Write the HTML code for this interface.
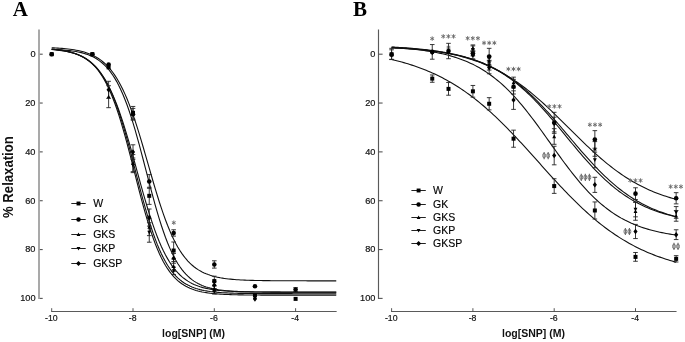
<!DOCTYPE html>
<html><head><meta charset="utf-8"><title>Figure</title>
<style>
html,body{margin:0;padding:0;background:#fff;}
body{width:685px;height:342px;overflow:hidden;font-family:"Liberation Sans",sans-serif;}
svg{display:block;}
.tk{font-family:"Liberation Sans",sans-serif;font-size:9.5px;fill:#111;stroke:#111;stroke-width:0.2px;}
.lg{font-family:"Liberation Sans",sans-serif;font-size:10.5px;fill:#000;stroke:#000;stroke-width:0.15px;}
.xl{font-family:"Liberation Sans",sans-serif;font-size:10.5px;font-weight:bold;fill:#111;}
.yl{font-family:"Liberation Sans",sans-serif;font-size:13.15px;font-weight:bold;fill:#111;}
.pl{font-family:"Liberation Serif",serif;font-size:21px;font-weight:bold;fill:#000;}
.st{font-family:"Liberation Sans",sans-serif;font-size:12.5px;fill:#777;}
</style></head><body>
<svg width="685" height="342" viewBox="0 0 685 342">
<rect width="685" height="342" fill="#fff"/>
<g opacity="0.999">
<text x="12.8" y="16" class="pl">A</text>
<text x="353" y="16" class="pl">B</text>
<text transform="translate(12.9 177.1) rotate(-90) scale(1 1.12)" text-anchor="middle" class="yl">% Relaxation</text>
<path d="M39.00 29.6V298.90" stroke="#9a9a9a" stroke-width="1.7" fill="none"/>
<path d="M39.80 54.20H42.70" stroke="#555" stroke-width="1.1" fill="none"/>
<text transform="translate(35.50 57.10) scale(0.97 1)" text-anchor="end" class="tk">0</text>
<path d="M39.80 103.04H42.70" stroke="#555" stroke-width="1.1" fill="none"/>
<text transform="translate(35.50 105.94) scale(0.97 1)" text-anchor="end" class="tk">20</text>
<path d="M39.80 151.88H42.70" stroke="#555" stroke-width="1.1" fill="none"/>
<text transform="translate(35.50 154.78) scale(0.97 1)" text-anchor="end" class="tk">40</text>
<path d="M39.80 200.72H42.70" stroke="#555" stroke-width="1.1" fill="none"/>
<text transform="translate(35.50 203.62) scale(0.97 1)" text-anchor="end" class="tk">60</text>
<path d="M39.80 249.56H42.70" stroke="#555" stroke-width="1.1" fill="none"/>
<text transform="translate(35.50 252.46) scale(0.97 1)" text-anchor="end" class="tk">80</text>
<path d="M39.80 298.40H42.70" stroke="#555" stroke-width="1.1" fill="none"/>
<text transform="translate(35.50 301.30) scale(0.97 1)" text-anchor="end" class="tk">100</text>
<path d="M51.20 311.5H336.65" stroke="#5a5a5a" stroke-width="1.05" fill="none"/>
<path d="M51.70 311.4V308.20" stroke="#444" stroke-width="0.9" fill="none"/>
<text transform="translate(51.30 321.20) scale(0.92 1)" text-anchor="middle" class="tk" style="font-size:9.5px">-10</text>
<path d="M133.00 311.4V308.20" stroke="#444" stroke-width="0.9" fill="none"/>
<text transform="translate(132.60 321.20) scale(0.92 1)" text-anchor="middle" class="tk" style="font-size:9.5px">-8</text>
<path d="M214.30 311.4V308.20" stroke="#444" stroke-width="0.9" fill="none"/>
<text transform="translate(213.90 321.20) scale(0.92 1)" text-anchor="middle" class="tk" style="font-size:9.5px">-6</text>
<path d="M295.60 311.4V308.20" stroke="#444" stroke-width="0.9" fill="none"/>
<text transform="translate(295.20 321.20) scale(0.92 1)" text-anchor="middle" class="tk" style="font-size:9.5px">-4</text>
<text x="193.60" y="337" text-anchor="middle" class="xl">log[SNP] (M)</text>
<path d="M378.50 29.6V298.90" stroke="#5a5a5a" stroke-width="1.15" fill="none"/>
<path d="M378.50 54.20H382.60" stroke="#555" stroke-width="1.1" fill="none"/>
<text transform="translate(375.40 57.10) scale(0.97 1)" text-anchor="end" class="tk">0</text>
<path d="M378.50 103.04H382.60" stroke="#555" stroke-width="1.1" fill="none"/>
<text transform="translate(375.40 105.94) scale(0.97 1)" text-anchor="end" class="tk">20</text>
<path d="M378.50 151.88H382.60" stroke="#555" stroke-width="1.1" fill="none"/>
<text transform="translate(375.40 154.78) scale(0.97 1)" text-anchor="end" class="tk">40</text>
<path d="M378.50 200.72H382.60" stroke="#555" stroke-width="1.1" fill="none"/>
<text transform="translate(375.40 203.62) scale(0.97 1)" text-anchor="end" class="tk">60</text>
<path d="M378.50 249.56H382.60" stroke="#555" stroke-width="1.1" fill="none"/>
<text transform="translate(375.40 252.46) scale(0.97 1)" text-anchor="end" class="tk">80</text>
<path d="M378.50 298.40H382.60" stroke="#555" stroke-width="1.1" fill="none"/>
<text transform="translate(375.40 301.30) scale(0.97 1)" text-anchor="end" class="tk">100</text>
<path d="M391.10 311.5H676.55" stroke="#5a5a5a" stroke-width="1.05" fill="none"/>
<path d="M391.60 311.4V308.20" stroke="#444" stroke-width="0.9" fill="none"/>
<text transform="translate(391.20 321.20) scale(0.92 1)" text-anchor="middle" class="tk" style="font-size:9.5px">-10</text>
<path d="M472.90 311.4V308.20" stroke="#444" stroke-width="0.9" fill="none"/>
<text transform="translate(472.50 321.20) scale(0.92 1)" text-anchor="middle" class="tk" style="font-size:9.5px">-8</text>
<path d="M554.20 311.4V308.20" stroke="#444" stroke-width="0.9" fill="none"/>
<text transform="translate(553.80 321.20) scale(0.92 1)" text-anchor="middle" class="tk" style="font-size:9.5px">-6</text>
<path d="M635.50 311.4V308.20" stroke="#444" stroke-width="0.9" fill="none"/>
<text transform="translate(635.10 321.20) scale(0.92 1)" text-anchor="middle" class="tk" style="font-size:9.5px">-4</text>
<text x="533.50" y="337" text-anchor="middle" class="xl">log[SNP] (M)</text>
<path d="M51.70 47.78 L53.73 47.88 L55.76 47.98 L57.80 48.10 L59.83 48.24 L61.86 48.39 L63.90 48.57 L65.93 48.76 L67.96 48.98 L69.99 49.23 L72.03 49.51 L74.06 49.82 L76.09 50.18 L78.12 50.57 L80.15 51.02 L82.19 51.53 L84.22 52.09 L86.25 52.73 L88.29 53.44 L90.32 54.24 L92.35 55.14 L94.38 56.14 L96.41 57.27 L98.45 58.52 L100.48 59.92 L102.51 61.48 L104.55 63.22 L106.58 65.15 L108.61 67.28 L110.64 69.64 L112.67 72.25 L114.71 75.11 L116.74 78.25 L118.77 81.69 L120.80 85.43 L122.84 89.48 L124.87 93.87 L126.90 98.58 L128.94 103.62 L130.97 109.00 L133.00 114.68 L135.03 120.67 L137.06 126.92 L139.10 133.43 L141.13 140.14 L143.16 147.02 L145.20 154.03 L147.23 161.10 L149.26 168.20 L151.29 175.27 L153.32 182.25 L155.36 189.10 L157.39 195.78 L159.42 202.23 L161.46 208.44 L163.49 214.37 L165.52 219.99 L167.55 225.30 L169.59 230.28 L171.62 234.92 L173.65 239.24 L175.68 243.23 L177.71 246.91 L179.75 250.29 L181.78 253.37 L183.81 256.18 L185.85 258.73 L187.88 261.05 L189.91 263.14 L191.94 265.03 L193.98 266.73 L196.01 268.26 L198.04 269.63 L200.07 270.85 L202.11 271.95 L204.14 272.94 L206.17 273.81 L208.20 274.59 L210.24 275.29 L212.27 275.91 L214.30 276.47 L216.33 276.96 L218.37 277.40 L220.40 277.79 L222.43 278.13 L224.46 278.44 L226.50 278.71 L228.53 278.95 L230.56 279.17 L232.59 279.36 L234.62 279.53 L236.66 279.68 L238.69 279.81 L240.72 279.93 L242.75 280.03 L244.79 280.12 L246.82 280.21 L248.85 280.28 L250.88 280.34 L252.92 280.40 L254.95 280.45 L256.98 280.49 L259.02 280.53 L261.05 280.57 L263.08 280.60 L265.11 280.63 L267.15 280.65 L269.18 280.67 L271.21 280.69 L273.24 280.71 L275.27 280.73 L277.31 280.74 L279.34 280.75 L281.37 280.76 L283.41 280.77 L285.44 280.78 L287.47 280.79 L289.50 280.79 L291.54 280.80 L293.57 280.80 L295.60 280.81 L297.63 280.81 L299.67 280.81 L301.70 280.82 L303.73 280.82 L305.76 280.82 L307.80 280.83 L309.83 280.83 L311.86 280.83 L313.89 280.83 L315.92 280.83 L317.96 280.83 L319.99 280.83 L322.02 280.83 L324.06 280.84 L326.09 280.84 L328.12 280.84 L330.15 280.84 L332.19 280.84 L334.22 280.84 L336.25 280.84" fill="none" stroke="#101010" stroke-width="1.1"/>
<path d="M51.70 49.34 L53.73 49.43 L55.76 49.52 L57.80 49.63 L59.83 49.75 L61.86 49.89 L63.90 50.05 L65.93 50.23 L67.96 50.44 L69.99 50.67 L72.03 50.94 L74.06 51.24 L76.09 51.58 L78.12 51.97 L80.15 52.41 L82.19 52.90 L84.22 53.47 L86.25 54.10 L88.29 54.83 L90.32 55.64 L92.35 56.56 L94.38 57.60 L96.41 58.77 L98.45 60.09 L100.48 61.57 L102.51 63.23 L104.55 65.09 L106.58 67.17 L108.61 69.49 L110.64 72.08 L112.67 74.94 L114.71 78.12 L116.74 81.61 L118.77 85.46 L120.80 89.66 L122.84 94.24 L124.87 99.21 L126.90 104.56 L128.94 110.30 L130.97 116.42 L133.00 122.90 L135.03 129.71 L137.06 136.82 L139.10 144.19 L141.13 151.77 L143.16 159.49 L145.20 167.31 L147.23 175.16 L149.26 182.96 L151.29 190.67 L153.32 198.21 L155.36 205.53 L157.39 212.58 L159.42 219.33 L161.46 225.74 L163.49 231.78 L165.52 237.45 L167.55 242.72 L169.59 247.61 L171.62 252.11 L173.65 256.24 L175.68 260.02 L177.71 263.45 L179.75 266.56 L181.78 269.37 L183.81 271.89 L185.85 274.17 L187.88 276.20 L189.91 278.02 L191.94 279.65 L193.98 281.09 L196.01 282.38 L198.04 283.52 L200.07 284.54 L202.11 285.43 L204.14 286.23 L206.17 286.93 L208.20 287.55 L210.24 288.10 L212.27 288.59 L214.30 289.02 L216.33 289.39 L218.37 289.73 L220.40 290.02 L222.43 290.28 L224.46 290.51 L226.50 290.71 L228.53 290.88 L230.56 291.04 L232.59 291.18 L234.62 291.30 L236.66 291.40 L238.69 291.49 L240.72 291.58 L242.75 291.65 L244.79 291.71 L246.82 291.77 L248.85 291.82 L250.88 291.86 L252.92 291.90 L254.95 291.93 L256.98 291.96 L259.02 291.99 L261.05 292.01 L263.08 292.03 L265.11 292.05 L267.15 292.06 L269.18 292.07 L271.21 292.09 L273.24 292.10 L275.27 292.11 L277.31 292.11 L279.34 292.12 L281.37 292.13 L283.41 292.13 L285.44 292.14 L287.47 292.14 L289.50 292.15 L291.54 292.15 L293.57 292.15 L295.60 292.15 L297.63 292.16 L299.67 292.16 L301.70 292.16 L303.73 292.16 L305.76 292.16 L307.80 292.16 L309.83 292.17 L311.86 292.17 L313.89 292.17 L315.92 292.17 L317.96 292.17 L319.99 292.17 L322.02 292.17 L324.06 292.17 L326.09 292.17 L328.12 292.17 L330.15 292.17 L332.19 292.17 L334.22 292.17 L336.25 292.17" fill="none" stroke="#101010" stroke-width="1.1"/>
<path d="M51.70 49.24 L53.73 49.41 L55.76 49.61 L57.80 49.84 L59.83 50.09 L61.86 50.38 L63.90 50.71 L65.93 51.09 L67.96 51.51 L69.99 52.00 L72.03 52.54 L74.06 53.16 L76.09 53.86 L78.12 54.66 L80.15 55.55 L82.19 56.57 L84.22 57.71 L86.25 59.00 L88.29 60.44 L90.32 62.07 L92.35 63.90 L94.38 65.94 L96.41 68.22 L98.45 70.77 L100.48 73.60 L102.51 76.73 L104.55 80.19 L106.58 84.00 L108.61 88.18 L110.64 92.74 L112.67 97.69 L114.71 103.03 L116.74 108.78 L118.77 114.92 L120.80 121.43 L122.84 128.29 L124.87 135.47 L126.90 142.93 L128.94 150.62 L130.97 158.47 L133.00 166.44 L135.03 174.45 L137.06 182.43 L139.10 190.32 L141.13 198.06 L143.16 205.59 L145.20 212.85 L147.23 219.81 L149.26 226.42 L151.29 232.67 L153.32 238.52 L155.36 243.98 L157.39 249.04 L159.42 253.71 L161.46 257.99 L163.49 261.90 L165.52 265.46 L167.55 268.68 L169.59 271.59 L171.62 274.22 L173.65 276.57 L175.68 278.68 L177.71 280.56 L179.75 282.24 L181.78 283.74 L183.81 285.07 L185.85 286.25 L187.88 287.30 L189.91 288.23 L191.94 289.05 L193.98 289.78 L196.01 290.42 L198.04 290.98 L200.07 291.48 L202.11 291.92 L204.14 292.31 L206.17 292.65 L208.20 292.95 L210.24 293.22 L212.27 293.45 L214.30 293.66 L216.33 293.84 L218.37 294.00 L220.40 294.14 L222.43 294.26 L224.46 294.37 L226.50 294.46 L228.53 294.55 L230.56 294.62 L232.59 294.68 L234.62 294.74 L236.66 294.79 L238.69 294.84 L240.72 294.87 L242.75 294.91 L244.79 294.94 L246.82 294.96 L248.85 294.99 L250.88 295.01 L252.92 295.02 L254.95 295.04 L256.98 295.05 L259.02 295.07 L261.05 295.08 L263.08 295.09 L265.11 295.09 L267.15 295.10 L269.18 295.11 L271.21 295.11 L273.24 295.12 L275.27 295.12 L277.31 295.13 L279.34 295.13 L281.37 295.13 L283.41 295.13 L285.44 295.14 L287.47 295.14 L289.50 295.14 L291.54 295.14 L293.57 295.14 L295.60 295.14 L297.63 295.14 L299.67 295.15 L301.70 295.15 L303.73 295.15 L305.76 295.15 L307.80 295.15 L309.83 295.15 L311.86 295.15 L313.89 295.15 L315.92 295.15 L317.96 295.15 L319.99 295.15 L322.02 295.15 L324.06 295.15 L326.09 295.15 L328.12 295.15 L330.15 295.15 L332.19 295.15 L334.22 295.15 L336.25 295.15" fill="none" stroke="#101010" stroke-width="1.1"/>
<path d="M51.70 49.52 L53.73 49.68 L55.76 49.87 L57.80 50.09 L59.83 50.33 L61.86 50.61 L63.90 50.93 L65.93 51.28 L67.96 51.69 L69.99 52.15 L72.03 52.67 L74.06 53.25 L76.09 53.92 L78.12 54.67 L80.15 55.52 L82.19 56.48 L84.22 57.56 L86.25 58.77 L88.29 60.14 L90.32 61.68 L92.35 63.40 L94.38 65.33 L96.41 67.48 L98.45 69.88 L100.48 72.55 L102.51 75.51 L104.55 78.78 L106.58 82.38 L108.61 86.32 L110.64 90.64 L112.67 95.33 L114.71 100.41 L116.74 105.88 L118.77 111.74 L120.80 117.96 L122.84 124.55 L124.87 131.46 L126.90 138.66 L128.94 146.11 L130.97 153.76 L133.00 161.55 L135.03 169.41 L137.06 177.29 L139.10 185.11 L141.13 192.82 L143.16 200.36 L145.20 207.67 L147.23 214.70 L149.26 221.42 L151.29 227.79 L153.32 233.80 L155.36 239.42 L157.39 244.66 L159.42 249.51 L161.46 253.97 L163.49 258.07 L165.52 261.80 L167.55 265.20 L169.59 268.28 L171.62 271.06 L173.65 273.56 L175.68 275.81 L177.71 277.83 L179.75 279.63 L181.78 281.24 L183.81 282.67 L185.85 283.95 L187.88 285.08 L189.91 286.09 L191.94 286.98 L193.98 287.77 L196.01 288.47 L198.04 289.08 L200.07 289.63 L202.11 290.11 L204.14 290.54 L206.17 290.91 L208.20 291.24 L210.24 291.54 L212.27 291.79 L214.30 292.02 L216.33 292.22 L218.37 292.40 L220.40 292.55 L222.43 292.69 L224.46 292.81 L226.50 292.91 L228.53 293.01 L230.56 293.09 L232.59 293.16 L234.62 293.22 L236.66 293.28 L238.69 293.33 L240.72 293.37 L242.75 293.41 L244.79 293.44 L246.82 293.47 L248.85 293.50 L250.88 293.52 L252.92 293.54 L254.95 293.56 L256.98 293.57 L259.02 293.59 L261.05 293.60 L263.08 293.61 L265.11 293.62 L267.15 293.63 L269.18 293.63 L271.21 293.64 L273.24 293.65 L275.27 293.65 L277.31 293.66 L279.34 293.66 L281.37 293.66 L283.41 293.67 L285.44 293.67 L287.47 293.67 L289.50 293.67 L291.54 293.67 L293.57 293.68 L295.60 293.68 L297.63 293.68 L299.67 293.68 L301.70 293.68 L303.73 293.68 L305.76 293.68 L307.80 293.68 L309.83 293.68 L311.86 293.68 L313.89 293.68 L315.92 293.68 L317.96 293.68 L319.99 293.68 L322.02 293.69 L324.06 293.69 L326.09 293.69 L328.12 293.69 L330.15 293.69 L332.19 293.69 L334.22 293.69 L336.25 293.69" fill="none" stroke="#101010" stroke-width="1.1"/>
<path d="M51.70 49.15 L53.73 49.35 L55.76 49.57 L57.80 49.82 L59.83 50.10 L61.86 50.41 L63.90 50.76 L65.93 51.16 L67.96 51.61 L69.99 52.11 L72.03 52.68 L74.06 53.31 L76.09 54.03 L78.12 54.83 L80.15 55.72 L82.19 56.73 L84.22 57.85 L86.25 59.11 L88.29 60.51 L90.32 62.07 L92.35 63.81 L94.38 65.74 L96.41 67.88 L98.45 70.25 L100.48 72.86 L102.51 75.74 L104.55 78.90 L106.58 82.35 L108.61 86.13 L110.64 90.22 L112.67 94.66 L114.71 99.43 L116.74 104.56 L118.77 110.02 L120.80 115.82 L122.84 121.94 L124.87 128.36 L126.90 135.04 L128.94 141.96 L130.97 149.08 L133.00 156.34 L135.03 163.70 L137.06 171.11 L139.10 178.51 L141.13 185.85 L143.16 193.07 L145.20 200.13 L147.23 206.98 L149.26 213.58 L151.29 219.90 L153.32 225.92 L155.36 231.62 L157.39 236.97 L159.42 241.99 L161.46 246.65 L163.49 250.98 L165.52 254.97 L167.55 258.64 L169.59 262.00 L171.62 265.07 L173.65 267.86 L175.68 270.39 L177.71 272.68 L179.75 274.76 L181.78 276.62 L183.81 278.30 L185.85 279.81 L187.88 281.16 L189.91 282.38 L191.94 283.46 L193.98 284.43 L196.01 285.29 L198.04 286.06 L200.07 286.75 L202.11 287.36 L204.14 287.91 L206.17 288.39 L208.20 288.82 L210.24 289.21 L212.27 289.55 L214.30 289.85 L216.33 290.12 L218.37 290.36 L220.40 290.57 L222.43 290.76 L224.46 290.92 L226.50 291.07 L228.53 291.20 L230.56 291.32 L232.59 291.42 L234.62 291.51 L236.66 291.59 L238.69 291.66 L240.72 291.73 L242.75 291.78 L244.79 291.83 L246.82 291.88 L248.85 291.92 L250.88 291.95 L252.92 291.98 L254.95 292.01 L256.98 292.03 L259.02 292.06 L261.05 292.07 L263.08 292.09 L265.11 292.11 L267.15 292.12 L269.18 292.13 L271.21 292.14 L273.24 292.15 L275.27 292.16 L277.31 292.17 L279.34 292.17 L281.37 292.18 L283.41 292.18 L285.44 292.19 L287.47 292.19 L289.50 292.19 L291.54 292.20 L293.57 292.20 L295.60 292.20 L297.63 292.21 L299.67 292.21 L301.70 292.21 L303.73 292.21 L305.76 292.21 L307.80 292.21 L309.83 292.21 L311.86 292.21 L313.89 292.22 L315.92 292.22 L317.96 292.22 L319.99 292.22 L322.02 292.22 L324.06 292.22 L326.09 292.22 L328.12 292.22 L330.15 292.22 L332.19 292.22 L334.22 292.22 L336.25 292.22" fill="none" stroke="#101010" stroke-width="1.1"/>
<path d="M391.60 59.49 L393.63 59.97 L395.66 60.47 L397.70 60.98 L399.73 61.51 L401.76 62.06 L403.80 62.63 L405.83 63.22 L407.86 63.83 L409.89 64.46 L411.92 65.11 L413.96 65.79 L415.99 66.48 L418.02 67.20 L420.05 67.95 L422.09 68.71 L424.12 69.50 L426.15 70.32 L428.19 71.17 L430.22 72.04 L432.25 72.93 L434.28 73.86 L436.31 74.81 L438.35 75.79 L440.38 76.81 L442.41 77.85 L444.44 78.92 L446.48 80.02 L448.51 81.16 L450.54 82.32 L452.57 83.52 L454.61 84.75 L456.64 86.02 L458.67 87.31 L460.70 88.65 L462.74 90.01 L464.77 91.41 L466.80 92.84 L468.83 94.31 L470.87 95.81 L472.90 97.35 L474.93 98.92 L476.96 100.52 L479.00 102.16 L481.03 103.83 L483.06 105.54 L485.10 107.28 L487.13 109.05 L489.16 110.86 L491.19 112.69 L493.22 114.56 L495.26 116.46 L497.29 118.39 L499.32 120.35 L501.36 122.33 L503.39 124.35 L505.42 126.38 L507.45 128.45 L509.49 130.54 L511.52 132.65 L513.55 134.78 L515.58 136.93 L517.62 139.10 L519.65 141.28 L521.68 143.49 L523.71 145.70 L525.75 147.93 L527.78 150.17 L529.81 152.42 L531.84 154.68 L533.88 156.94 L535.91 159.20 L537.94 161.47 L539.97 163.74 L542.00 166.01 L544.04 168.27 L546.07 170.53 L548.10 172.78 L550.13 175.02 L552.17 177.26 L554.20 179.48 L556.23 181.69 L558.26 183.88 L560.30 186.06 L562.33 188.22 L564.36 190.36 L566.39 192.48 L568.43 194.58 L570.46 196.65 L572.49 198.70 L574.52 200.73 L576.56 202.72 L578.59 204.69 L580.62 206.63 L582.65 208.55 L584.69 210.43 L586.72 212.28 L588.75 214.10 L590.78 215.88 L592.82 217.64 L594.85 219.36 L596.88 221.05 L598.91 222.70 L600.95 224.32 L602.98 225.91 L605.01 227.46 L607.05 228.97 L609.08 230.46 L611.11 231.91 L613.14 233.32 L615.17 234.70 L617.21 236.05 L619.24 237.36 L621.27 238.64 L623.31 239.88 L625.34 241.09 L627.37 242.27 L629.40 243.42 L631.43 244.54 L633.47 245.63 L635.50 246.68 L637.53 247.71 L639.57 248.70 L641.60 249.67 L643.63 250.60 L645.66 251.51 L647.69 252.40 L649.73 253.25 L651.76 254.08 L653.79 254.88 L655.82 255.66 L657.86 256.41 L659.89 257.14 L661.92 257.85 L663.95 258.53 L665.99 259.19 L668.02 259.83 L670.05 260.45 L672.09 261.05 L674.12 261.63 L676.15 262.19" fill="none" stroke="#101010" stroke-width="1.1"/>
<path d="M391.60 47.59 L393.63 47.70 L395.66 47.83 L397.70 47.96 L399.73 48.10 L401.76 48.24 L403.80 48.40 L405.83 48.56 L407.86 48.73 L409.89 48.92 L411.92 49.11 L413.96 49.32 L415.99 49.54 L418.02 49.77 L420.05 50.01 L422.09 50.27 L424.12 50.55 L426.15 50.84 L428.19 51.14 L430.22 51.47 L432.25 51.81 L434.28 52.17 L436.31 52.55 L438.35 52.96 L440.38 53.38 L442.41 53.83 L444.44 54.31 L446.48 54.81 L448.51 55.34 L450.54 55.90 L452.57 56.48 L454.61 57.10 L456.64 57.76 L458.67 58.44 L460.70 59.17 L462.74 59.93 L464.77 60.73 L466.80 61.57 L468.83 62.46 L470.87 63.38 L472.90 64.36 L474.93 65.38 L476.96 66.45 L479.00 67.57 L481.03 68.75 L483.06 69.97 L485.10 71.26 L487.13 72.60 L489.16 74.00 L491.19 75.46 L493.22 76.98 L495.26 78.56 L497.29 80.20 L499.32 81.91 L501.36 83.68 L503.39 85.52 L505.42 87.42 L507.45 89.39 L509.49 91.42 L511.52 93.52 L513.55 95.68 L515.58 97.90 L517.62 100.19 L519.65 102.53 L521.68 104.93 L523.71 107.39 L525.75 109.90 L527.78 112.47 L529.81 115.08 L531.84 117.73 L533.88 120.42 L535.91 123.16 L537.94 125.92 L539.97 128.71 L542.00 131.53 L544.04 134.37 L546.07 137.22 L548.10 140.08 L550.13 142.94 L552.17 145.81 L554.20 148.67 L556.23 151.52 L558.26 154.35 L560.30 157.17 L562.33 159.95 L564.36 162.72 L566.39 165.44 L568.43 168.13 L570.46 170.78 L572.49 173.39 L574.52 175.94 L576.56 178.45 L578.59 180.90 L580.62 183.30 L582.65 185.63 L584.69 187.91 L586.72 190.13 L588.75 192.28 L590.78 194.37 L592.82 196.39 L594.85 198.35 L596.88 200.25 L598.91 202.08 L600.95 203.84 L602.98 205.54 L605.01 207.18 L607.05 208.75 L609.08 210.26 L611.11 211.72 L613.14 213.11 L615.17 214.44 L617.21 215.72 L619.24 216.94 L621.27 218.11 L623.31 219.22 L625.34 220.29 L627.37 221.30 L629.40 222.27 L631.43 223.20 L633.47 224.07 L635.50 224.91 L637.53 225.71 L639.57 226.46 L641.60 227.18 L643.63 227.87 L645.66 228.51 L647.69 229.13 L649.73 229.71 L651.76 230.27 L653.79 230.79 L655.82 231.29 L657.86 231.76 L659.89 232.21 L661.92 232.64 L663.95 233.04 L665.99 233.42 L668.02 233.78 L670.05 234.12 L672.09 234.44 L674.12 234.74 L676.15 235.03" fill="none" stroke="#101010" stroke-width="1.1"/>
<path d="M391.60 46.95 L393.63 47.07 L395.66 47.19 L397.70 47.32 L399.73 47.45 L401.76 47.60 L403.80 47.74 L405.83 47.90 L407.86 48.06 L409.89 48.23 L411.92 48.41 L413.96 48.60 L415.99 48.80 L418.02 49.00 L420.05 49.22 L422.09 49.44 L424.12 49.68 L426.15 49.92 L428.19 50.18 L430.22 50.45 L432.25 50.73 L434.28 51.03 L436.31 51.34 L438.35 51.66 L440.38 52.00 L442.41 52.35 L444.44 52.72 L446.48 53.10 L448.51 53.50 L450.54 53.92 L452.57 54.36 L454.61 54.82 L456.64 55.30 L458.67 55.80 L460.70 56.31 L462.74 56.86 L464.77 57.42 L466.80 58.01 L468.83 58.62 L470.87 59.26 L472.90 59.92 L474.93 60.61 L476.96 61.33 L479.00 62.08 L481.03 62.85 L483.06 63.66 L485.10 64.49 L487.13 65.36 L489.16 66.26 L491.19 67.19 L493.22 68.16 L495.26 69.16 L497.29 70.19 L499.32 71.27 L501.36 72.37 L503.39 73.51 L505.42 74.69 L507.45 75.91 L509.49 77.16 L511.52 78.45 L513.55 79.78 L515.58 81.15 L517.62 82.55 L519.65 84.00 L521.68 85.48 L523.71 86.99 L525.75 88.55 L527.78 90.13 L529.81 91.76 L531.84 93.42 L533.88 95.11 L535.91 96.83 L537.94 98.59 L539.97 100.38 L542.00 102.19 L544.04 104.03 L546.07 105.90 L548.10 107.80 L550.13 109.71 L552.17 111.65 L554.20 113.60 L556.23 115.57 L558.26 117.55 L560.30 119.55 L562.33 121.55 L564.36 123.57 L566.39 125.59 L568.43 127.61 L570.46 129.63 L572.49 131.65 L574.52 133.66 L576.56 135.67 L578.59 137.67 L580.62 139.66 L582.65 141.63 L584.69 143.59 L586.72 145.53 L588.75 147.45 L590.78 149.35 L592.82 151.22 L594.85 153.07 L596.88 154.90 L598.91 156.69 L600.95 158.46 L602.98 160.19 L605.01 161.89 L607.05 163.56 L609.08 165.19 L611.11 166.79 L613.14 168.35 L615.17 169.88 L617.21 171.37 L619.24 172.82 L621.27 174.24 L623.31 175.61 L625.34 176.95 L627.37 178.26 L629.40 179.52 L631.43 180.75 L633.47 181.94 L635.50 183.09 L637.53 184.20 L639.57 185.28 L641.60 186.33 L643.63 187.34 L645.66 188.31 L647.69 189.26 L649.73 190.16 L651.76 191.04 L653.79 191.89 L655.82 192.70 L657.86 193.48 L659.89 194.24 L661.92 194.96 L663.95 195.66 L665.99 196.33 L668.02 196.98 L670.05 197.60 L672.09 198.19 L674.12 198.76 L676.15 199.31" fill="none" stroke="#101010" stroke-width="1.1"/>
<path d="M391.60 47.92 L393.63 48.00 L395.66 48.10 L397.70 48.19 L399.73 48.29 L401.76 48.40 L403.80 48.51 L405.83 48.63 L407.86 48.76 L409.89 48.90 L411.92 49.04 L413.96 49.18 L415.99 49.34 L418.02 49.51 L420.05 49.68 L422.09 49.87 L424.12 50.06 L426.15 50.27 L428.19 50.48 L430.22 50.71 L432.25 50.95 L434.28 51.20 L436.31 51.47 L438.35 51.75 L440.38 52.05 L442.41 52.36 L444.44 52.69 L446.48 53.04 L448.51 53.40 L450.54 53.78 L452.57 54.19 L454.61 54.61 L456.64 55.06 L458.67 55.53 L460.70 56.02 L462.74 56.54 L464.77 57.08 L466.80 57.66 L468.83 58.26 L470.87 58.89 L472.90 59.55 L474.93 60.24 L476.96 60.96 L479.00 61.72 L481.03 62.52 L483.06 63.35 L485.10 64.22 L487.13 65.14 L489.16 66.09 L491.19 67.08 L493.22 68.12 L495.26 69.20 L497.29 70.32 L499.32 71.50 L501.36 72.72 L503.39 73.99 L505.42 75.31 L507.45 76.68 L509.49 78.10 L511.52 79.57 L513.55 81.10 L515.58 82.68 L517.62 84.31 L519.65 85.99 L521.68 87.73 L523.71 89.52 L525.75 91.36 L527.78 93.25 L529.81 95.19 L531.84 97.18 L533.88 99.22 L535.91 101.31 L537.94 103.44 L539.97 105.62 L542.00 107.84 L544.04 110.09 L546.07 112.38 L548.10 114.71 L550.13 117.06 L552.17 119.45 L554.20 121.85 L556.23 124.28 L558.26 126.73 L560.30 129.18 L562.33 131.65 L564.36 134.13 L566.39 136.61 L568.43 139.08 L570.46 141.55 L572.49 144.02 L574.52 146.46 L576.56 148.90 L578.59 151.31 L580.62 153.70 L582.65 156.07 L584.69 158.40 L586.72 160.70 L588.75 162.97 L590.78 165.19 L592.82 167.38 L594.85 169.53 L596.88 171.63 L598.91 173.68 L600.95 175.69 L602.98 177.65 L605.01 179.55 L607.05 181.41 L609.08 183.21 L611.11 184.96 L613.14 186.66 L615.17 188.31 L617.21 189.90 L619.24 191.44 L621.27 192.93 L623.31 194.36 L625.34 195.75 L627.37 197.08 L629.40 198.37 L631.43 199.60 L633.47 200.79 L635.50 201.93 L637.53 203.02 L639.57 204.07 L641.60 205.08 L643.63 206.04 L645.66 206.97 L647.69 207.85 L649.73 208.69 L651.76 209.50 L653.79 210.27 L655.82 211.00 L657.86 211.71 L659.89 212.37 L661.92 213.01 L663.95 213.62 L665.99 214.20 L668.02 214.75 L670.05 215.28 L672.09 215.78 L674.12 216.26 L676.15 216.71" fill="none" stroke="#101010" stroke-width="1.1"/>
<path d="M391.60 47.31 L393.63 47.41 L395.66 47.51 L397.70 47.61 L399.73 47.72 L401.76 47.84 L403.80 47.97 L405.83 48.10 L407.86 48.23 L409.89 48.38 L411.92 48.53 L413.96 48.69 L415.99 48.86 L418.02 49.04 L420.05 49.23 L422.09 49.42 L424.12 49.63 L426.15 49.85 L428.19 50.08 L430.22 50.32 L432.25 50.57 L434.28 50.84 L436.31 51.12 L438.35 51.41 L440.38 51.72 L442.41 52.04 L444.44 52.38 L446.48 52.74 L448.51 53.12 L450.54 53.51 L452.57 53.93 L454.61 54.36 L456.64 54.82 L458.67 55.29 L460.70 55.79 L462.74 56.32 L464.77 56.87 L466.80 57.45 L468.83 58.05 L470.87 58.68 L472.90 59.34 L474.93 60.03 L476.96 60.75 L479.00 61.51 L481.03 62.30 L483.06 63.12 L485.10 63.98 L487.13 64.88 L489.16 65.81 L491.19 66.79 L493.22 67.80 L495.26 68.86 L497.29 69.95 L499.32 71.10 L501.36 72.28 L503.39 73.51 L505.42 74.79 L507.45 76.11 L509.49 77.48 L511.52 78.90 L513.55 80.37 L515.58 81.88 L517.62 83.45 L519.65 85.06 L521.68 86.72 L523.71 88.43 L525.75 90.19 L527.78 92.00 L529.81 93.85 L531.84 95.76 L533.88 97.70 L535.91 99.69 L537.94 101.73 L539.97 103.80 L542.00 105.92 L544.04 108.07 L546.07 110.26 L548.10 112.48 L550.13 114.74 L552.17 117.02 L554.20 119.33 L556.23 121.66 L558.26 124.01 L560.30 126.38 L562.33 128.76 L564.36 131.15 L566.39 133.55 L568.43 135.95 L570.46 138.36 L572.49 140.76 L574.52 143.15 L576.56 145.54 L578.59 147.91 L580.62 150.27 L582.65 152.60 L584.69 154.92 L586.72 157.21 L588.75 159.47 L590.78 161.70 L592.82 163.90 L594.85 166.07 L596.88 168.20 L598.91 170.28 L600.95 172.33 L602.98 174.33 L605.01 176.30 L607.05 178.21 L609.08 180.08 L611.11 181.90 L613.14 183.68 L615.17 185.40 L617.21 187.08 L619.24 188.71 L621.27 190.29 L623.31 191.82 L625.34 193.30 L627.37 194.73 L629.40 196.12 L631.43 197.46 L633.47 198.75 L635.50 199.99 L637.53 201.19 L639.57 202.34 L641.60 203.46 L643.63 204.52 L645.66 205.55 L647.69 206.54 L649.73 207.48 L651.76 208.39 L653.79 209.26 L655.82 210.10 L657.86 210.90 L659.89 211.66 L661.92 212.39 L663.95 213.10 L665.99 213.77 L668.02 214.41 L670.05 215.02 L672.09 215.60 L674.12 216.16 L676.15 216.69" fill="none" stroke="#101010" stroke-width="1.1"/>
<rect x="446.71" y="45.80" width="3.6" height="3.4" fill="#8a8a8a"/>
<path d="M108.61 81.31V98.40M106.31 81.31H110.91M106.31 98.40H110.91" stroke="#222" stroke-width="0.9" fill="none"/>
<path d="M108.61 85.70V107.68M106.31 85.70H110.91M106.31 107.68H110.91" stroke="#222" stroke-width="0.9" fill="none"/>
<path d="M133.00 106.46V119.16M130.70 106.46H135.30M130.70 119.16H135.30" stroke="#222" stroke-width="0.9" fill="none"/>
<path d="M133.00 108.41V120.13M130.70 108.41H135.30M130.70 120.13H135.30" stroke="#222" stroke-width="0.9" fill="none"/>
<path d="M133.00 144.80V159.45M130.70 144.80H135.30M130.70 159.45H135.30" stroke="#222" stroke-width="0.9" fill="none"/>
<path d="M133.00 154.57V171.66M130.70 154.57H135.30M130.70 171.66H135.30" stroke="#222" stroke-width="0.9" fill="none"/>
<path d="M133.00 157.99V172.64M130.70 157.99H135.30M130.70 172.64H135.30" stroke="#222" stroke-width="0.9" fill="none"/>
<path d="M149.26 174.59V188.27M146.96 174.59H151.56M146.96 188.27H151.56" stroke="#222" stroke-width="0.9" fill="none"/>
<path d="M149.26 187.29V204.38M146.96 187.29H151.56M146.96 204.38H151.56" stroke="#222" stroke-width="0.9" fill="none"/>
<path d="M149.26 209.02V226.12M146.96 209.02H151.56M146.96 226.12H151.56" stroke="#222" stroke-width="0.9" fill="none"/>
<path d="M149.26 218.55V235.64M146.96 218.55H151.56M146.96 235.64H151.56" stroke="#222" stroke-width="0.9" fill="none"/>
<path d="M149.26 222.70V242.23M146.96 222.70H151.56M146.96 242.23H151.56" stroke="#222" stroke-width="0.9" fill="none"/>
<path d="M173.65 229.78V236.13M171.35 229.78H175.95M171.35 236.13H175.95" stroke="#222" stroke-width="0.9" fill="none"/>
<path d="M173.65 241.99V259.08M171.35 241.99H175.95M171.35 259.08H175.95" stroke="#222" stroke-width="0.9" fill="none"/>
<path d="M173.65 253.47V263.24M171.35 253.47H175.95M171.35 263.24H175.95" stroke="#222" stroke-width="0.9" fill="none"/>
<path d="M173.65 261.53V271.29M171.35 261.53H175.95M171.35 271.29H175.95" stroke="#222" stroke-width="0.9" fill="none"/>
<path d="M173.65 267.14V274.47M171.35 267.14H175.95M171.35 274.47H175.95" stroke="#222" stroke-width="0.9" fill="none"/>
<path d="M214.30 260.79V268.12M212.00 260.79H216.60M212.00 268.12H216.60" stroke="#222" stroke-width="0.9" fill="none"/>
<path d="M214.30 276.18V285.95M212.00 276.18H216.60M212.00 285.95H216.60" stroke="#222" stroke-width="0.9" fill="none"/>
<path d="M214.30 281.31V288.63M212.00 281.31H216.60M212.00 288.63H216.60" stroke="#222" stroke-width="0.9" fill="none"/>
<path d="M214.30 285.70V291.56M212.00 285.70H216.60M212.00 291.56H216.60" stroke="#222" stroke-width="0.9" fill="none"/>
<path d="M214.30 289.12V294.00M212.00 289.12H216.60M212.00 294.00H216.60" stroke="#222" stroke-width="0.9" fill="none"/>
<path d="M295.60 287.66V291.56M293.30 287.66H297.90M293.30 291.56H297.90" stroke="#222" stroke-width="0.9" fill="none"/>
<rect x="49.70" y="52.20" width="4.00" height="4.00" fill="#000"/>
<circle cx="51.70" cy="54.20" r="2.30" fill="#000"/>
<rect x="90.35" y="52.20" width="4.00" height="4.00" fill="#000"/>
<circle cx="92.35" cy="54.20" r="2.30" fill="#000"/>
<rect x="106.61" y="65.39" width="4.00" height="4.00" fill="#000"/>
<circle cx="108.61" cy="64.46" r="2.30" fill="#000"/>
<path d="M108.61 87.10L110.70 89.85L108.61 92.60L106.52 89.85Z" fill="#000"/>
<path d="M108.61 94.74L110.56 98.35L106.66 98.35Z" fill="#000"/>
<rect x="131.00" y="110.81" width="4.00" height="4.00" fill="#000"/>
<circle cx="133.00" cy="114.27" r="2.30" fill="#000"/>
<path d="M133.00 149.37L135.09 152.12L133.00 154.87L130.91 152.12Z" fill="#000"/>
<path d="M133.00 161.16L134.95 164.77L131.05 164.77Z" fill="#000"/>
<path d="M133.00 167.26L134.95 163.65L131.05 163.65Z" fill="#000"/>
<circle cx="149.26" cy="181.43" r="2.30" fill="#000"/>
<rect x="147.26" y="193.84" width="4.00" height="4.00" fill="#000"/>
<path d="M149.26 214.82L151.35 217.57L149.26 220.32L147.17 217.57Z" fill="#000"/>
<path d="M149.26 225.14L151.21 228.75L147.31 228.75Z" fill="#000"/>
<path d="M149.26 234.42L151.21 230.81L147.31 230.81Z" fill="#000"/>
<circle cx="173.65" cy="232.95" r="2.30" fill="#000"/>
<rect x="171.65" y="248.54" width="4.00" height="4.00" fill="#000"/>
<path d="M173.65 255.60L175.74 258.35L173.65 261.10L171.56 258.35Z" fill="#000"/>
<path d="M173.65 264.46L175.60 268.07L171.70 268.07Z" fill="#000"/>
<path d="M173.65 272.76L175.60 269.15L171.70 269.15Z" fill="#000"/>
<circle cx="214.30" cy="264.46" r="2.30" fill="#000"/>
<rect x="212.30" y="279.06" width="4.00" height="4.00" fill="#000"/>
<path d="M214.30 282.22L216.39 284.97L214.30 287.72L212.21 284.97Z" fill="#000"/>
<path d="M214.30 286.68L216.25 290.29L212.35 290.29Z" fill="#000"/>
<path d="M214.30 293.51L216.25 289.90L212.35 289.90Z" fill="#000"/>
<circle cx="254.95" cy="286.19" r="2.30" fill="#000"/>
<rect x="252.95" y="293.47" width="4.00" height="4.00" fill="#000"/>
<path d="M254.95 295.47L256.90 299.08L253.00 299.08Z" fill="#000"/>
<path d="M254.95 296.14L257.04 298.89L254.95 301.64L252.86 298.89Z" fill="#000"/>
<circle cx="295.60" cy="289.61" r="2.30" fill="#000"/>
<rect x="293.60" y="296.89" width="4.00" height="4.00" fill="#000"/>
<path d="M391.60 49.80V59.57M389.30 49.80H393.90M389.30 59.57H393.90" stroke="#222" stroke-width="0.9" fill="none"/>
<path d="M391.60 48.34V59.33M389.30 48.34H393.90M389.30 59.33H393.90" stroke="#222" stroke-width="0.9" fill="none"/>
<path d="M432.25 44.55V59.21M429.95 44.55H434.55M429.95 59.21H434.55" stroke="#222" stroke-width="0.9" fill="none"/>
<path d="M432.25 74.96V82.28M429.95 74.96H434.55M429.95 82.28H434.55" stroke="#222" stroke-width="0.9" fill="none"/>
<path d="M448.51 43.33V58.72M446.21 43.33H450.81M446.21 58.72H450.81" stroke="#222" stroke-width="0.9" fill="none"/>
<path d="M448.51 82.53V95.23M446.21 82.53H450.81M446.21 95.23H450.81" stroke="#222" stroke-width="0.9" fill="none"/>
<path d="M472.90 44.92V51.27M470.60 44.92H475.20M470.60 51.27H475.20" stroke="#222" stroke-width="0.9" fill="none"/>
<path d="M472.90 45.90V53.22M470.60 45.90H475.20M470.60 53.22H475.20" stroke="#222" stroke-width="0.9" fill="none"/>
<path d="M472.90 51.03V55.91M470.60 51.03H475.20M470.60 55.91H475.20" stroke="#222" stroke-width="0.9" fill="none"/>
<path d="M472.90 85.46V97.18M470.60 85.46H475.20M470.60 97.18H475.20" stroke="#222" stroke-width="0.9" fill="none"/>
<path d="M472.90 51.03V58.84M470.60 51.03H475.20M470.60 58.84H475.20" stroke="#222" stroke-width="0.9" fill="none"/>
<path d="M489.16 48.34V64.94M486.86 48.34H491.46M486.86 64.94H491.46" stroke="#222" stroke-width="0.9" fill="none"/>
<path d="M489.16 56.15V65.92M486.86 56.15H491.46M486.86 65.92H491.46" stroke="#222" stroke-width="0.9" fill="none"/>
<path d="M489.16 60.31V70.07M486.86 60.31H491.46M486.86 70.07H491.46" stroke="#222" stroke-width="0.9" fill="none"/>
<path d="M489.16 61.04V73.74M486.86 61.04H491.46M486.86 73.74H491.46" stroke="#222" stroke-width="0.9" fill="none"/>
<path d="M489.16 97.67V109.88M486.86 97.67H491.46M486.86 109.88H491.46" stroke="#222" stroke-width="0.9" fill="none"/>
<path d="M513.55 79.35V94.00M511.25 79.35H515.85M511.25 94.00H515.85" stroke="#222" stroke-width="0.9" fill="none"/>
<path d="M513.55 77.15V87.90M511.25 77.15H515.85M511.25 87.90H515.85" stroke="#222" stroke-width="0.9" fill="none"/>
<path d="M513.55 90.83V109.39M511.25 90.83H515.85M511.25 109.39H515.85" stroke="#222" stroke-width="0.9" fill="none"/>
<path d="M513.55 130.15V147.24M511.25 130.15H515.85M511.25 147.24H515.85" stroke="#222" stroke-width="0.9" fill="none"/>
<path d="M554.20 112.32V133.32M551.90 112.32H556.50M551.90 133.32H556.50" stroke="#222" stroke-width="0.9" fill="none"/>
<path d="M554.20 117.20V131.86M551.90 117.20H556.50M551.90 131.86H556.50" stroke="#222" stroke-width="0.9" fill="none"/>
<path d="M554.20 128.68V144.31M551.90 128.68H556.50M551.90 144.31H556.50" stroke="#222" stroke-width="0.9" fill="none"/>
<path d="M554.20 146.26V164.82M551.90 146.26H556.50M551.90 164.82H556.50" stroke="#222" stroke-width="0.9" fill="none"/>
<path d="M554.20 178.74V193.39M551.90 178.74H556.50M551.90 193.39H556.50" stroke="#222" stroke-width="0.9" fill="none"/>
<path d="M594.85 130.63V148.22M592.55 130.63H597.15M592.55 148.22H597.15" stroke="#222" stroke-width="0.9" fill="none"/>
<path d="M594.85 141.62V156.28M592.55 141.62H597.15M592.55 156.28H597.15" stroke="#222" stroke-width="0.9" fill="none"/>
<path d="M594.85 152.12V167.75M592.55 152.12H597.15M592.55 167.75H597.15" stroke="#222" stroke-width="0.9" fill="none"/>
<path d="M594.85 177.28V192.42M592.55 177.28H597.15M592.55 192.42H597.15" stroke="#222" stroke-width="0.9" fill="none"/>
<path d="M594.85 201.94V219.04M592.55 201.94H597.15M592.55 219.04H597.15" stroke="#222" stroke-width="0.9" fill="none"/>
<path d="M635.50 187.78V199.50M633.20 187.78H637.80M633.20 199.50H637.80" stroke="#222" stroke-width="0.9" fill="none"/>
<path d="M635.50 202.19V220.26M633.20 202.19H637.80M633.20 220.26H637.80" stroke="#222" stroke-width="0.9" fill="none"/>
<path d="M635.50 202.19V216.84M633.20 202.19H637.80M633.20 216.84H637.80" stroke="#222" stroke-width="0.9" fill="none"/>
<path d="M635.50 224.41V238.57M633.20 224.41H637.80M633.20 238.57H637.80" stroke="#222" stroke-width="0.9" fill="none"/>
<path d="M635.50 252.49V261.28M633.20 252.49H637.80M633.20 261.28H637.80" stroke="#222" stroke-width="0.9" fill="none"/>
<path d="M676.15 192.66V203.89M673.85 192.66H678.45M673.85 203.89H678.45" stroke="#222" stroke-width="0.9" fill="none"/>
<path d="M676.15 206.58V218.30M673.85 206.58H678.45M673.85 218.30H678.45" stroke="#222" stroke-width="0.9" fill="none"/>
<path d="M676.15 210.49V221.23M673.85 210.49H678.45M673.85 221.23H678.45" stroke="#222" stroke-width="0.9" fill="none"/>
<path d="M676.15 229.78V239.55M673.85 229.78H678.45M673.85 239.55H678.45" stroke="#222" stroke-width="0.9" fill="none"/>
<path d="M676.15 255.67V262.01M673.85 255.67H678.45M673.85 262.01H678.45" stroke="#222" stroke-width="0.9" fill="none"/>
<circle cx="391.60" cy="54.69" r="2.30" fill="#000"/>
<rect x="389.60" y="52.20" width="4.00" height="4.00" fill="#000"/>
<path d="M432.25 49.74L434.34 52.49L432.25 55.24L430.16 52.49Z" fill="#000"/>
<circle cx="432.25" cy="51.88" r="2.30" fill="#000"/>
<rect x="430.25" y="76.62" width="4.00" height="4.00" fill="#000"/>
<circle cx="448.51" cy="51.03" r="2.30" fill="#000"/>
<path d="M448.51 50.05L450.46 53.66L446.56 53.66Z" fill="#000"/>
<rect x="446.51" y="86.88" width="4.00" height="4.00" fill="#000"/>
<path d="M472.90 46.14L474.85 49.75L470.95 49.75Z" fill="#000"/>
<path d="M472.90 51.51L474.85 47.90L470.95 47.90Z" fill="#000"/>
<circle cx="472.90" cy="53.47" r="2.30" fill="#000"/>
<rect x="470.90" y="89.32" width="4.00" height="4.00" fill="#000"/>
<path d="M472.90 52.18L474.99 54.93L472.90 57.68L470.81 54.93Z" fill="#000"/>
<circle cx="489.16" cy="56.64" r="2.30" fill="#000"/>
<path d="M489.16 59.09L491.11 62.70L487.21 62.70Z" fill="#000"/>
<path d="M489.16 67.14L491.11 63.53L487.21 63.53Z" fill="#000"/>
<path d="M489.16 64.64L491.25 67.39L489.16 70.14L487.07 67.39Z" fill="#000"/>
<rect x="487.16" y="101.77" width="4.00" height="4.00" fill="#000"/>
<circle cx="513.55" cy="86.68" r="2.30" fill="#000"/>
<path d="M513.55 80.58L515.50 84.18L511.60 84.18Z" fill="#000"/>
<path d="M513.55 97.36L515.64 100.11L513.55 102.86L511.46 100.11Z" fill="#000"/>
<rect x="511.55" y="136.69" width="4.00" height="4.00" fill="#000"/>
<circle cx="554.20" cy="122.82" r="2.30" fill="#000"/>
<path d="M554.20 126.48L556.15 122.87L552.25 122.87Z" fill="#000"/>
<path d="M554.20 134.55L556.15 138.15L552.25 138.15Z" fill="#000"/>
<path d="M554.20 152.79L556.29 155.54L554.20 158.29L552.11 155.54Z" fill="#000"/>
<rect x="552.20" y="184.07" width="4.00" height="4.00" fill="#000"/>
<circle cx="594.85" cy="139.43" r="2.30" fill="#000"/>
<path d="M594.85 147.00L596.80 150.61L592.90 150.61Z" fill="#000"/>
<path d="M594.85 161.89L596.80 158.28L592.90 158.28Z" fill="#000"/>
<path d="M594.85 182.10L596.94 184.85L594.85 187.60L592.76 184.85Z" fill="#000"/>
<rect x="592.85" y="208.49" width="4.00" height="4.00" fill="#000"/>
<circle cx="635.50" cy="193.64" r="2.30" fill="#000"/>
<path d="M635.50 209.27L637.45 212.88L633.55 212.88Z" fill="#000"/>
<path d="M635.50 211.46L637.45 207.85L633.55 207.85Z" fill="#000"/>
<path d="M635.50 228.74L637.59 231.49L635.50 234.24L633.41 231.49Z" fill="#000"/>
<rect x="633.50" y="254.89" width="4.00" height="4.00" fill="#000"/>
<circle cx="676.15" cy="198.28" r="2.30" fill="#000"/>
<path d="M676.15 214.39L678.10 210.78L674.20 210.78Z" fill="#000"/>
<path d="M676.15 213.91L678.10 217.52L674.20 217.52Z" fill="#000"/>
<path d="M676.15 231.91L678.24 234.66L676.15 237.41L674.06 234.66Z" fill="#000"/>
<rect x="674.15" y="256.84" width="4.00" height="4.00" fill="#000"/>
<path d="M71.30 203.50H85.70" stroke="#222" stroke-width="1" fill="none"/>
<rect x="76.54" y="201.54" width="3.92" height="3.92" fill="#000"/>
<text x="93.20" y="207.10" class="lg">W</text>
<path d="M71.30 219.50H85.70" stroke="#222" stroke-width="1" fill="none"/>
<circle cx="78.50" cy="219.50" r="2.25" fill="#000"/>
<text x="93.20" y="223.10" class="lg">GK</text>
<path d="M71.30 234.50H85.70" stroke="#222" stroke-width="1" fill="none"/>
<path d="M78.50 232.59L80.41 236.12L76.59 236.12Z" fill="#000"/>
<text x="93.20" y="238.10" class="lg">GKS</text>
<path d="M71.30 248.50H85.70" stroke="#222" stroke-width="1" fill="none"/>
<path d="M78.50 250.41L80.41 246.88L76.59 246.88Z" fill="#000"/>
<text x="93.20" y="252.10" class="lg">GKP</text>
<path d="M71.30 263.50H85.70" stroke="#222" stroke-width="1" fill="none"/>
<path d="M78.50 261.00L81.00 263.50L78.50 266.00L76.00 263.50Z" fill="#000"/>
<text x="93.20" y="267.10" class="lg">GKSP</text>
<path d="M411.40 190.50H425.80" stroke="#222" stroke-width="1" fill="none"/>
<rect x="416.64" y="188.54" width="3.92" height="3.92" fill="#000"/>
<text x="433.00" y="194.10" class="lg">W</text>
<path d="M411.40 204.50H425.80" stroke="#222" stroke-width="1" fill="none"/>
<circle cx="418.60" cy="204.50" r="2.25" fill="#000"/>
<text x="433.00" y="208.10" class="lg">GK</text>
<path d="M411.40 217.50H425.80" stroke="#222" stroke-width="1" fill="none"/>
<path d="M418.60 215.59L420.51 219.12L416.69 219.12Z" fill="#000"/>
<text x="433.00" y="221.10" class="lg">GKS</text>
<path d="M411.40 230.50H425.80" stroke="#222" stroke-width="1" fill="none"/>
<path d="M418.60 232.41L420.51 228.88L416.69 228.88Z" fill="#000"/>
<text x="433.00" y="234.10" class="lg">GKP</text>
<path d="M411.40 243.50H425.80" stroke="#222" stroke-width="1" fill="none"/>
<path d="M418.60 241.00L421.10 243.50L418.60 246.00L416.10 243.50Z" fill="#000"/>
<text x="433.00" y="247.10" class="lg">GKSP</text>
<path d="M173.80 220.50V224.90M171.89 221.60L175.71 223.80M171.89 223.80L175.71 221.60" stroke="#6a6a6a" stroke-width="0.95" fill="none"/>
<path d="M432.20 36.40V40.80M430.29 37.50L434.11 39.70M430.29 39.70L434.11 37.50" stroke="#6a6a6a" stroke-width="0.95" fill="none"/>
<path d="M443.25 34.20V38.60M441.34 35.30L445.16 37.50M441.34 37.50L445.16 35.30" stroke="#6a6a6a" stroke-width="0.95" fill="none"/>
<path d="M448.40 34.20V38.60M446.49 35.30L450.31 37.50M446.49 37.50L450.31 35.30" stroke="#6a6a6a" stroke-width="0.95" fill="none"/>
<path d="M453.55 34.20V38.60M451.64 35.30L455.46 37.50M451.64 37.50L455.46 35.30" stroke="#6a6a6a" stroke-width="0.95" fill="none"/>
<path d="M467.65 36.10V40.50M465.74 37.20L469.56 39.40M465.74 39.40L469.56 37.20" stroke="#6a6a6a" stroke-width="0.95" fill="none"/>
<path d="M472.80 36.10V40.50M470.89 37.20L474.71 39.40M470.89 39.40L474.71 37.20" stroke="#6a6a6a" stroke-width="0.95" fill="none"/>
<path d="M477.95 36.10V40.50M476.04 37.20L479.86 39.40M476.04 39.40L479.86 37.20" stroke="#6a6a6a" stroke-width="0.95" fill="none"/>
<path d="M484.05 40.70V45.10M482.14 41.80L485.96 44.00M482.14 44.00L485.96 41.80" stroke="#6a6a6a" stroke-width="0.95" fill="none"/>
<path d="M489.20 40.70V45.10M487.29 41.80L491.11 44.00M487.29 44.00L491.11 41.80" stroke="#6a6a6a" stroke-width="0.95" fill="none"/>
<path d="M494.35 40.70V45.10M492.44 41.80L496.26 44.00M492.44 44.00L496.26 41.80" stroke="#6a6a6a" stroke-width="0.95" fill="none"/>
<path d="M508.35 66.80V71.20M506.44 67.90L510.26 70.10M506.44 70.10L510.26 67.90" stroke="#6a6a6a" stroke-width="0.95" fill="none"/>
<path d="M513.50 66.80V71.20M511.59 67.90L515.41 70.10M511.59 70.10L515.41 67.90" stroke="#6a6a6a" stroke-width="0.95" fill="none"/>
<path d="M518.65 66.80V71.20M516.74 67.90L520.56 70.10M516.74 70.10L520.56 67.90" stroke="#6a6a6a" stroke-width="0.95" fill="none"/>
<path d="M549.25 104.20V108.60M547.34 105.30L551.16 107.50M547.34 107.50L551.16 105.30" stroke="#6a6a6a" stroke-width="0.95" fill="none"/>
<path d="M554.40 104.20V108.60M552.49 105.30L556.31 107.50M552.49 107.50L556.31 105.30" stroke="#6a6a6a" stroke-width="0.95" fill="none"/>
<path d="M559.55 104.20V108.60M557.64 105.30L561.46 107.50M557.64 107.50L561.46 105.30" stroke="#6a6a6a" stroke-width="0.95" fill="none"/>
<path d="M589.85 122.50V126.90M587.94 123.60L591.76 125.80M587.94 125.80L591.76 123.60" stroke="#6a6a6a" stroke-width="0.95" fill="none"/>
<path d="M595.00 122.50V126.90M593.09 123.60L596.91 125.80M593.09 125.80L596.91 123.60" stroke="#6a6a6a" stroke-width="0.95" fill="none"/>
<path d="M600.15 122.50V126.90M598.24 123.60L602.06 125.80M598.24 125.80L602.06 123.60" stroke="#6a6a6a" stroke-width="0.95" fill="none"/>
<path d="M630.25 178.30V182.70M628.34 179.40L632.16 181.60M628.34 181.60L632.16 179.40" stroke="#6a6a6a" stroke-width="0.95" fill="none"/>
<path d="M635.40 178.30V182.70M633.49 179.40L637.31 181.60M633.49 181.60L637.31 179.40" stroke="#6a6a6a" stroke-width="0.95" fill="none"/>
<path d="M640.55 178.30V182.70M638.64 179.40L642.46 181.60M638.64 181.60L642.46 179.40" stroke="#6a6a6a" stroke-width="0.95" fill="none"/>
<path d="M670.65 184.40V188.80M668.74 185.50L672.56 187.70M668.74 187.70L672.56 185.50" stroke="#6a6a6a" stroke-width="0.95" fill="none"/>
<path d="M675.80 184.40V188.80M673.89 185.50L677.71 187.70M673.89 187.70L677.71 185.50" stroke="#6a6a6a" stroke-width="0.95" fill="none"/>
<path d="M680.95 184.40V188.80M679.04 185.50L682.86 187.70M679.04 187.70L682.86 185.50" stroke="#6a6a6a" stroke-width="0.95" fill="none"/>
<ellipse cx="544.12" cy="155.60" rx="1.4" ry="2.4" fill="none" stroke="#777" stroke-width="1"/>
<path d="M544.12 152.00V159.20" stroke="#6a6a6a" stroke-width="1.1"/>
<ellipse cx="548.17" cy="155.60" rx="1.4" ry="2.4" fill="none" stroke="#777" stroke-width="1"/>
<path d="M548.17 152.00V159.20" stroke="#6a6a6a" stroke-width="1.1"/>
<ellipse cx="581.30" cy="177.30" rx="1.4" ry="2.4" fill="none" stroke="#777" stroke-width="1"/>
<path d="M581.30 173.70V180.90" stroke="#6a6a6a" stroke-width="1.1"/>
<ellipse cx="585.35" cy="177.30" rx="1.4" ry="2.4" fill="none" stroke="#777" stroke-width="1"/>
<path d="M585.35 173.70V180.90" stroke="#6a6a6a" stroke-width="1.1"/>
<ellipse cx="589.40" cy="177.30" rx="1.4" ry="2.4" fill="none" stroke="#777" stroke-width="1"/>
<path d="M589.40 173.70V180.90" stroke="#6a6a6a" stroke-width="1.1"/>
<ellipse cx="625.38" cy="231.50" rx="1.4" ry="2.4" fill="none" stroke="#777" stroke-width="1"/>
<path d="M625.38 227.90V235.10" stroke="#6a6a6a" stroke-width="1.1"/>
<ellipse cx="629.42" cy="231.50" rx="1.4" ry="2.4" fill="none" stroke="#777" stroke-width="1"/>
<path d="M629.42 227.90V235.10" stroke="#6a6a6a" stroke-width="1.1"/>
<ellipse cx="673.98" cy="246.40" rx="1.4" ry="2.4" fill="none" stroke="#777" stroke-width="1"/>
<path d="M673.98 242.80V250.00" stroke="#6a6a6a" stroke-width="1.1"/>
<ellipse cx="678.02" cy="246.40" rx="1.4" ry="2.4" fill="none" stroke="#777" stroke-width="1"/>
<path d="M678.02 242.80V250.00" stroke="#6a6a6a" stroke-width="1.1"/>
</g></svg></body></html>
